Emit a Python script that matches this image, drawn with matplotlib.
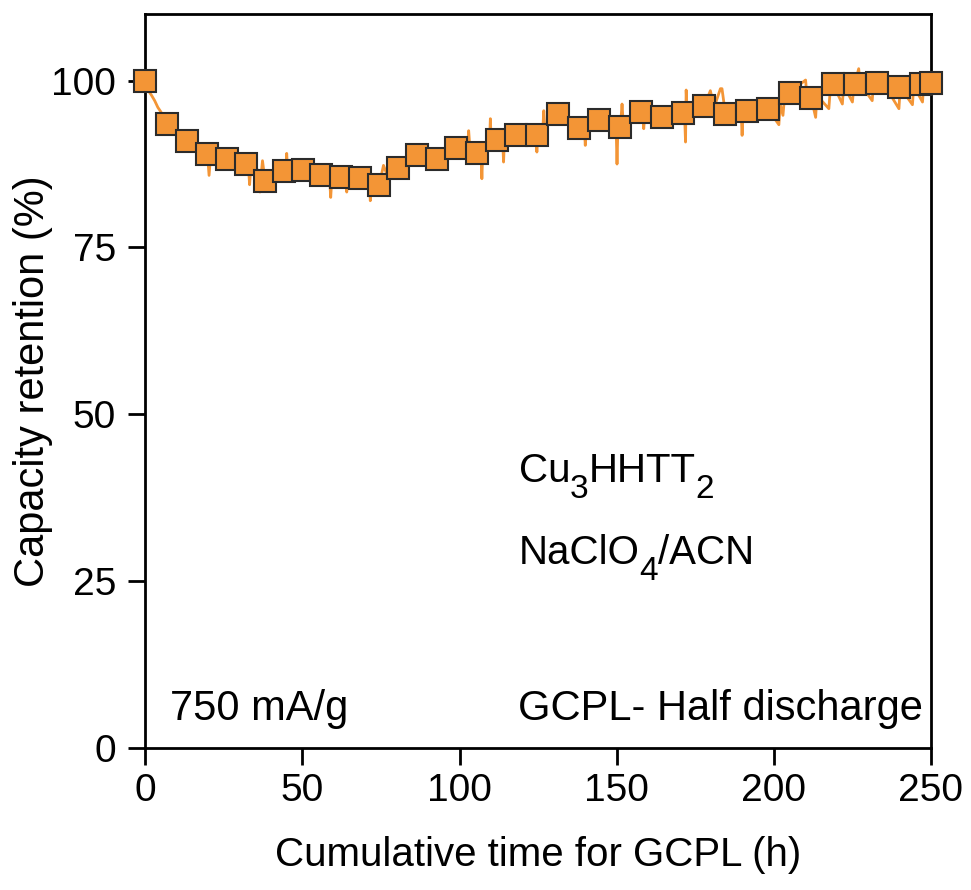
import numpy as np
import matplotlib
matplotlib.use("Agg")
import matplotlib.pyplot as plt
from matplotlib.transforms import IdentityTransform

plt.rcParams['font.family'] = ['Liberation Sans', 'DejaVu Sans']

# -------- DATA --------

# capacity retention sampled once per marker (h, %)
marker_time = [0, 6.8, 13.2, 19.6, 25.9, 32.1, 38.1, 44.2, 50.2, 55.8,
               62.2, 68.4, 74.4, 80.5, 86.5, 92.8, 99.0, 105.4, 111.9, 118.0,
               124.6, 131.3, 137.9, 144.5, 151.0, 157.8, 164.5, 171.1, 177.9, 184.6,
               191.3, 198.2, 205.0, 211.9, 218.8, 225.7, 232.8, 239.8, 246.8, 250.0]
marker_retention = [100, 93.5, 90.9, 89.0, 88.2, 87.5, 85.0, 86.4, 86.6, 85.9,
                    85.6, 85.4, 84.3, 86.9, 88.9, 88.3, 89.9, 89.2, 91.1, 91.8,
                    91.9, 95.0, 92.9, 94.1, 93.0, 95.3, 94.5, 95.2, 96.2, 95.0,
                    95.5, 95.7, 98.2, 97.4, 99.5, 99.5, 99.7, 99.1, 99.5, 99.6]

# raw per-cycle trace (h, %)
trace_time = [0, 1, 2, 3, 4, 5, 6.8, 10, 13.2, 17, 19.8, 20.3, 20.8, 25.9, 30,
              32.8, 33.2, 33.6, 36.2, 36.5, 36.9, 37.3, 38.1, 41, 44.8, 45, 45.3,
              50.2, 55.8, 58.6, 59, 59.4, 62.2, 63.8, 64.1, 64.4, 68.4, 71.3, 71.6,
              71.9, 74.4, 75.8, 77, 80.5, 83, 86.5, 92.8, 99, 102.6, 102.9, 103.2,
              105.4, 106.8, 107.1, 107.4, 109.5, 109.8, 110.1, 111.9, 113.7, 114,
              114.3, 118.3, 124.3, 124.6, 124.9, 126.5, 126.8, 127.1, 131.3, 134,
              137.9, 139.7, 140, 140.3, 144.5, 149.8, 150.1, 150.4, 151.4, 151.7,
              152, 157.8, 158.3, 158.6, 158.9, 164.5, 171.1, 171.6, 171.9, 172.1,
              172.4, 177.9, 179.8, 181, 183, 183.5, 184.6, 189.6, 189.9, 190.2,
              191.3, 198.2, 201.6, 202, 202.9, 203.3, 205, 210.1, 210.5, 211.9,
              213.3, 213.7, 217.5, 218, 218.8, 221.8, 222.2, 225, 225.5, 225.7,
              227, 227.4, 231.3, 231.7, 232.8, 235, 239.8, 240.2, 244.1, 244.5,
              247.3, 247.7, 250]
trace_retention = [100, 98.5, 97.8, 97, 96, 95.3, 93.5, 92, 90.9, 89.8, 89, 85.8, 88.8, 88.2, 87.8,
                   87.3, 84.4, 87.2, 86.5, 83.3, 86, 88, 85, 85.8, 86.5, 89.1, 86.4,
                   86.6, 85.9, 85.8, 82.5, 85.7, 85.6, 85.5, 83.3, 85.5, 85.4, 85, 82,
                   84.8, 84.3, 87.3, 85.8, 86.9, 87.8, 88.9, 88.3, 89.9, 90.5, 92.5, 90.5,
                   89.2, 89.5, 85.3, 89.5, 90.3, 94.3, 90.6, 91.1, 91.3, 87.8,
                   91.3, 91.8, 91.9, 89.3, 92, 92.8, 95.5, 93, 95, 93.8,
                   92.9, 93.2, 90.3, 93.3, 94.1, 93.2, 87.5, 93.2, 94.5, 96.5,
                   94.2, 95.3, 94.8, 92.8, 94.8, 94.5, 95.2, 94.8, 90.8, 98.6,
                   95.5, 96.2, 98.5, 96, 98.8, 98.8, 95, 95.3, 91.8, 95.4,
                   95.5, 95.7, 93.4, 96.5, 94.8, 97, 98.2, 100.1, 97.8, 97.4,
                   94.5, 97.8, 95.8, 99, 99.5, 96.5, 99.3, 96.8, 99.4, 99.5,
                   101.8, 99.6, 97, 99.6, 99.7, 99.5, 95.8, 99, 96.4, 99.2,
                   96.8, 99.5, 99.6]

x_ticks = [0, 50, 100, 150, 200, 250]
y_ticks = [0, 25, 50, 75, 100]

# formula pieces: (text, is_subscript)
material = [('Cu', False), ('3', True), ('HHTT', False), ('2', True)]
electrolyte = [('NaClO', False), ('4', True), ('/ACN', False)]

orange = '#F39536'

# -------- PLOT --------

fig = plt.figure(figsize=(9.71, 8.9), dpi=100)
ax = fig.add_axes([0.1496, 0.1599, 0.8092, 0.8244])

ax.plot(trace_time, trace_retention, color=orange, lw=2, zorder=2)
ax.plot(marker_time, marker_retention, ls='none', marker='s', markersize=16,
        markerfacecolor=orange, markeredgecolor='#2b2b2b', markeredgewidth=1.5,
        clip_on=False, zorder=3)

ax.set_xlim(0, 250)
ax.set_ylim(0, 110)
ax.set_xticks(x_ticks)
ax.set_yticks(y_ticks)

for s in ax.spines.values():
    s.set_linewidth(2)
ax.tick_params(direction='out', length=12, width=2, labelsize=28)
ax.tick_params(axis='x', pad=6)
ax.tick_params(axis='y', pad=9)

ax.set_xlabel('Cumulative time for GCPL (h)', fontsize=29, labelpad=20)
ax.set_ylabel('Capacity retention (%)', fontsize=30)
ax.yaxis.set_label_coords(-0.117, 0.5)

ax.text(7.9, 4.1, '750 mA/g', fontsize=30)
ax.text(118.6, 4.2, 'GCPL- Half discharge', fontsize=30)


def formula(x, y, parts, size=29, sub_size=24, drop=16):
    # lay out text pieces left to right, subscripts lowered
    renderer = fig.canvas.get_renderer()
    px, py = ax.transData.transform((x, y))
    for text, sub in parts:
        t = ax.text(px, py - (drop if sub else 0), text,
                    fontsize=sub_size if sub else size,
                    transform=IdentityTransform(), va='baseline')
        px = t.get_window_extent(renderer).x1


formula(118.8, 39.8, material)
formula(118.8, 27.5, electrolyte)

fig.savefig('out.png', dpi=100)
